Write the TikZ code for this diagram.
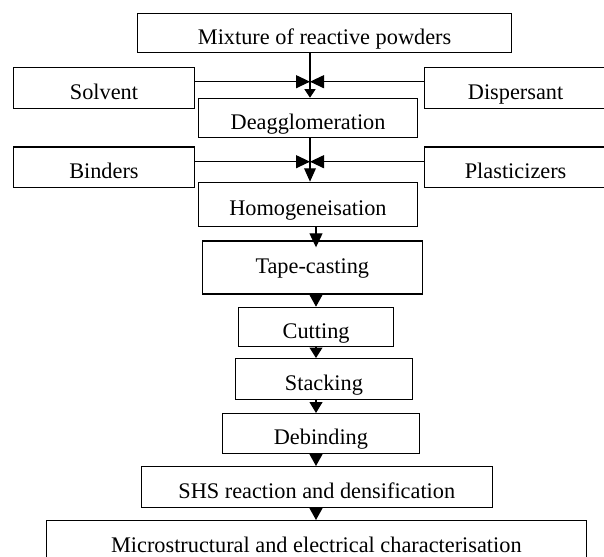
\documentclass[tikz,border=0pt]{standalone}
\usepackage{fontspec}
\setmainfont{Liberation Serif}
\usetikzlibrary{arrows.meta}
\begin{document}
\begin{tikzpicture}[x=1pt,y=-1pt,
  box/.style={draw, line width=1.2pt, inner sep=0pt, anchor=north west,
    text height=22.8pt, text depth=0pt, font=\fontsize{22.3}{26}\selectfont},
  conn/.style={line width=1.2pt},
  hhead/.style={-{Triangle[length=14pt,width=13pt]}},
  vhead/.style={-{Triangle[length=12pt,width=13pt]}}]
\useasboundingbox (0,0) rectangle (604,556);
\node[box, minimum width=374pt, minimum height=39.3pt] (mix) at (137,13) {Mixture of reactive powders};
\node[box, minimum width=181.3pt, minimum height=41.3pt] (solv) at (12.7,66.7) {Solvent};
\node[box, minimum width=182pt, minimum height=41pt] (disp) at (424,66.7) {Dispersant};
\node[box, minimum width=219pt, minimum height=39pt] (deag) at (198,97.7) {Deagglomeration};
\node[box, minimum width=181.3pt, minimum height=40.5pt] (bind) at (12.7,146.5) {Binders};
\node[box, minimum width=182pt, minimum height=40.5pt] (plast) at (424,146.5) {Plasticizers};
\node[box, minimum width=219.3pt, minimum height=44.3pt] (homog) at (197.7,181.7) {Homogeneisation};
\node[box, minimum width=220pt, minimum height=53pt, text height=15.4pt, text depth=4pt] (tape) at (201.7,240.3) {Tape-casting};
\node[box, minimum width=155pt, minimum height=39pt] (cut) at (238,306.7) {Cutting};
\node[box, minimum width=176.7pt, minimum height=41pt] (stack) at (235,358) {Stacking};
\node[box, minimum width=197.3pt, minimum height=39.7pt] (debind) at (221.7,413) {Debinding};
\node[box, minimum width=351pt, minimum height=40.7pt] (shs) at (140.7,466) {SHS reaction and densification};
\node[box, minimum width=539.5pt, minimum height=40pt] (micro) at (46,520) {Microstructural and electrical characterisation};
\coordinate (j1) at (310,81.7);
\coordinate (j2) at (310,161.7);
\coordinate (c2) at (316,0);
\draw[conn, -{Triangle[length=8.5pt,width=11pt]}] (mix.south -| j1) -- (deag.north -| j1);
\draw[conn, hhead] (solv.east |- j1) -- (j1);
\draw[conn, hhead] (disp.west |- j1) -- (j1);
\draw[conn, -{Triangle[length=13.4pt,width=11.7pt]}] (deag.south -| j2) -- (homog.north -| j2);
\draw[conn, hhead] (bind.east |- j2) -- (j2);
\draw[conn, hhead] (plast.west |- j2) -- (j2);
\draw[conn, -{Triangle[length=14pt,width=13pt]}, shorten >=-7pt] (homog.south -| c2) -- (tape.north -| c2);
\draw[conn, vhead] (tape.south -| c2) -- (cut.north -| c2);
\draw[conn, -{Triangle[length=10.5pt,width=13pt]}] (cut.south -| c2) -- (stack.north -| c2);
\draw[conn, -{Triangle[length=11pt,width=13pt]}] (stack.south -| c2) -- (debind.north -| c2);
\draw[conn, vhead] (debind.south -| c2) -- (shs.north -| c2);
\draw[conn, vhead] (shs.south -| c2) -- (micro.north -| c2);
\end{tikzpicture}
\end{document}
